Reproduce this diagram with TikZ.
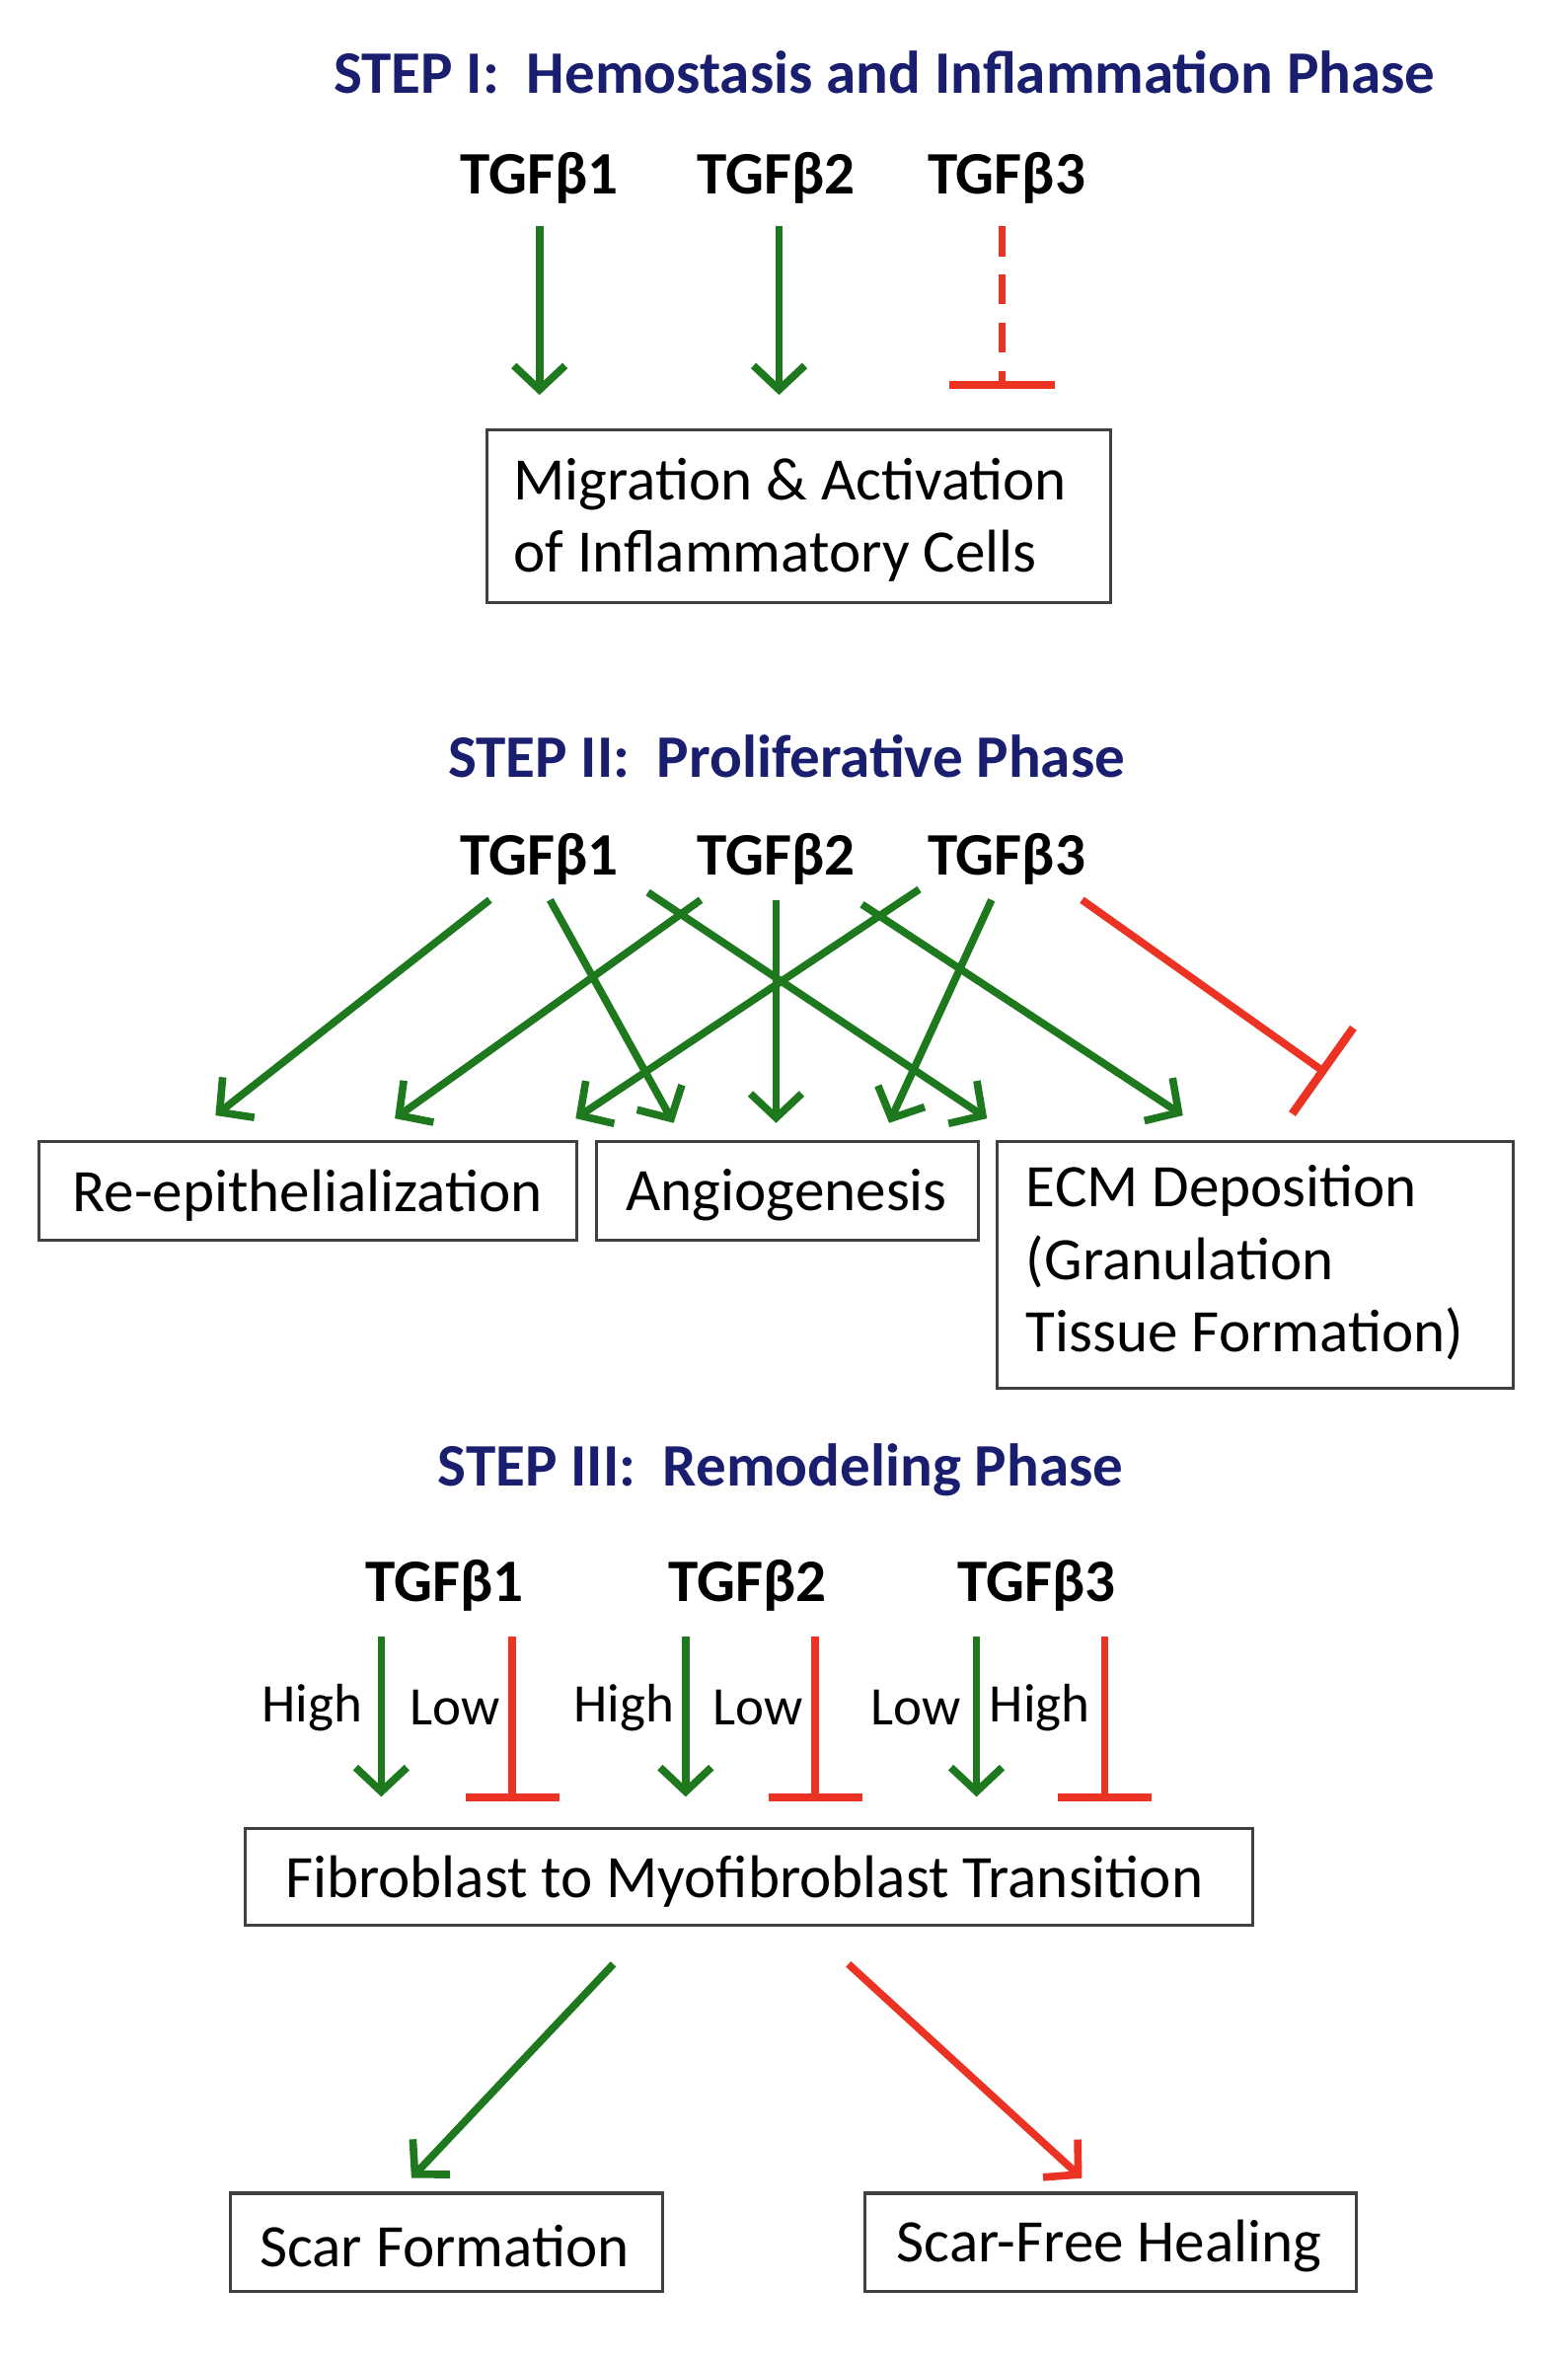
\documentclass[tikz,border=0pt]{standalone}
\usepackage{fontspec}
\setmainfont{Carlito}
\usetikzlibrary{arrows.meta}
\definecolor{gr}{RGB}{30,120,30}
\definecolor{rd}{RGB}{235,50,35}
\definecolor{nv}{RGB}{25,30,110}
\begin{document}
\begin{tikzpicture}[x=1pt,y=-1pt,
 title/.style={font=\fontsize{40}{44}\selectfont\bfseries,text=nv},
 tgf/.style={font=\fontsize{40}{44}\selectfont\bfseries},
 box/.style={draw=black!75,line width=2pt,font=\fontsize{40}{48}\selectfont,align=left,inner sep=0pt},
 lab/.style={font=\fontsize{36}{40}\selectfont},
 ga/.style={draw=gr,line width=5pt,-{Straight Barb[length=16pt,width=34pt,line width=5pt]}},
 ri/.style={draw=rd,line width=5pt,-{Bar[width=70pt,line width=5.5pt]}},
 ra/.style={draw=rd,line width=5pt,-{Straight Barb[length=16pt,width=34pt,line width=5pt]}}]
\useasboundingbox (0,0) rectangle (1040,1567);
% Step I
\node[title] (t1) at (587,48) {STEP I:\ \ Hemostasis and Inflammation Phase};
\node[tgf] (a1) at (358,118) {TGFβ1};
\node[tgf] (a2) at (515,118) {TGFβ2};
\node[tgf] (a3) at (668,118) {TGFβ3};
\draw[box] (323,285) rectangle (737,400);
\node[box,draw=none,anchor=west] (b1) at (340,345) {Migration \& Activation\\of Inflammatory Cells};
\coordinate (e1) at (358,262); \coordinate (e2) at (517,262); \coordinate (e3) at (665,258);
\draw[ga] (358,150) -- (e1);
\draw[ga] (517,150) -- (e2);
\draw[ri,dash pattern=on 20pt off 12pt,-{Bar[width=70pt,line width=5.5pt]}] (665,150) -- (e3);
% Step II
\node[title] (t2) at (522,502) {STEP II:\ \ Proliferative Phase};
\node[tgf] (c1) at (358,570) {TGFβ1};
\node[tgf] (c2) at (515,570) {TGFβ2};
\node[tgf] (c3) at (668,570) {TGFβ3};
\draw[box] (26,757) rectangle (383,823);
\node[box,draw=none] (re) at (204,793) {Re-epithelialization};
\draw[box] (396,757) rectangle (649,823);
\node[box,draw=none] (an) at (522,793) {Angiogenesis};
\draw[box] (662,757) rectangle (1004,921);
\node[box,draw=none,anchor=north west] (ecm) at (680,772) {ECM Deposition\\(Granulation\\Tissue Formation)};
\draw[ga] (325,597) -- (143,740);
\draw[ga] (365,597) -- (447,745);
\draw[ga] (430,592) -- (655,742);
\draw[ga] (465,597) -- (262,742);
\draw[ga] (515,597) -- (515,745);
\draw[ga] (610,590) -- (382,742);
\draw[ga] (572,600) -- (785,740);
\draw[ga] (658,597) -- (590,745);
\draw[ri] (718,597) -- (880,712);
% Step III
\node[title] (t3) at (518,975) {STEP III:\ \ Remodeling Phase};
\node[tgf] (d1) at (295,1052) {TGFβ1};
\node[tgf] (d2) at (496,1052) {TGFβ2};
\node[tgf] (d3) at (688,1052) {TGFβ3};
\foreach \g/\r in {253/340,455/541,648/733}{
 \draw[ga] (\g,1086) -- (\g,1192);
 \draw[ri,-{Bar[width=62pt,line width=5.5pt]}] (\r,1086) -- (\r,1195);}
\node[lab] at (207,1133) {High}; \node[lab] at (302,1133) {Low};
\node[lab] at (414,1133) {High}; \node[lab] at (503,1133) {Low};
\node[lab] at (608,1133) {Low}; \node[lab] at (690,1133) {High};
\draw[box] (163,1213) rectangle (831,1277);
\node[box,draw=none] (fm) at (494,1248) {Fibroblast to Myofibroblast Transition};
\draw[box] (153,1455) rectangle (440,1520);
\node[box,draw=none] (sf) at (295,1490) {Scar Formation};
\draw[box] (574,1455) rectangle (900,1520);
\node[box,draw=none] (sh) at (736,1490) {Scar-Free Healing};
\draw[ga] (407,1303) -- (273,1445);
\draw[ra] (563,1303) -- (718,1445);
\end{tikzpicture}
\end{document}
